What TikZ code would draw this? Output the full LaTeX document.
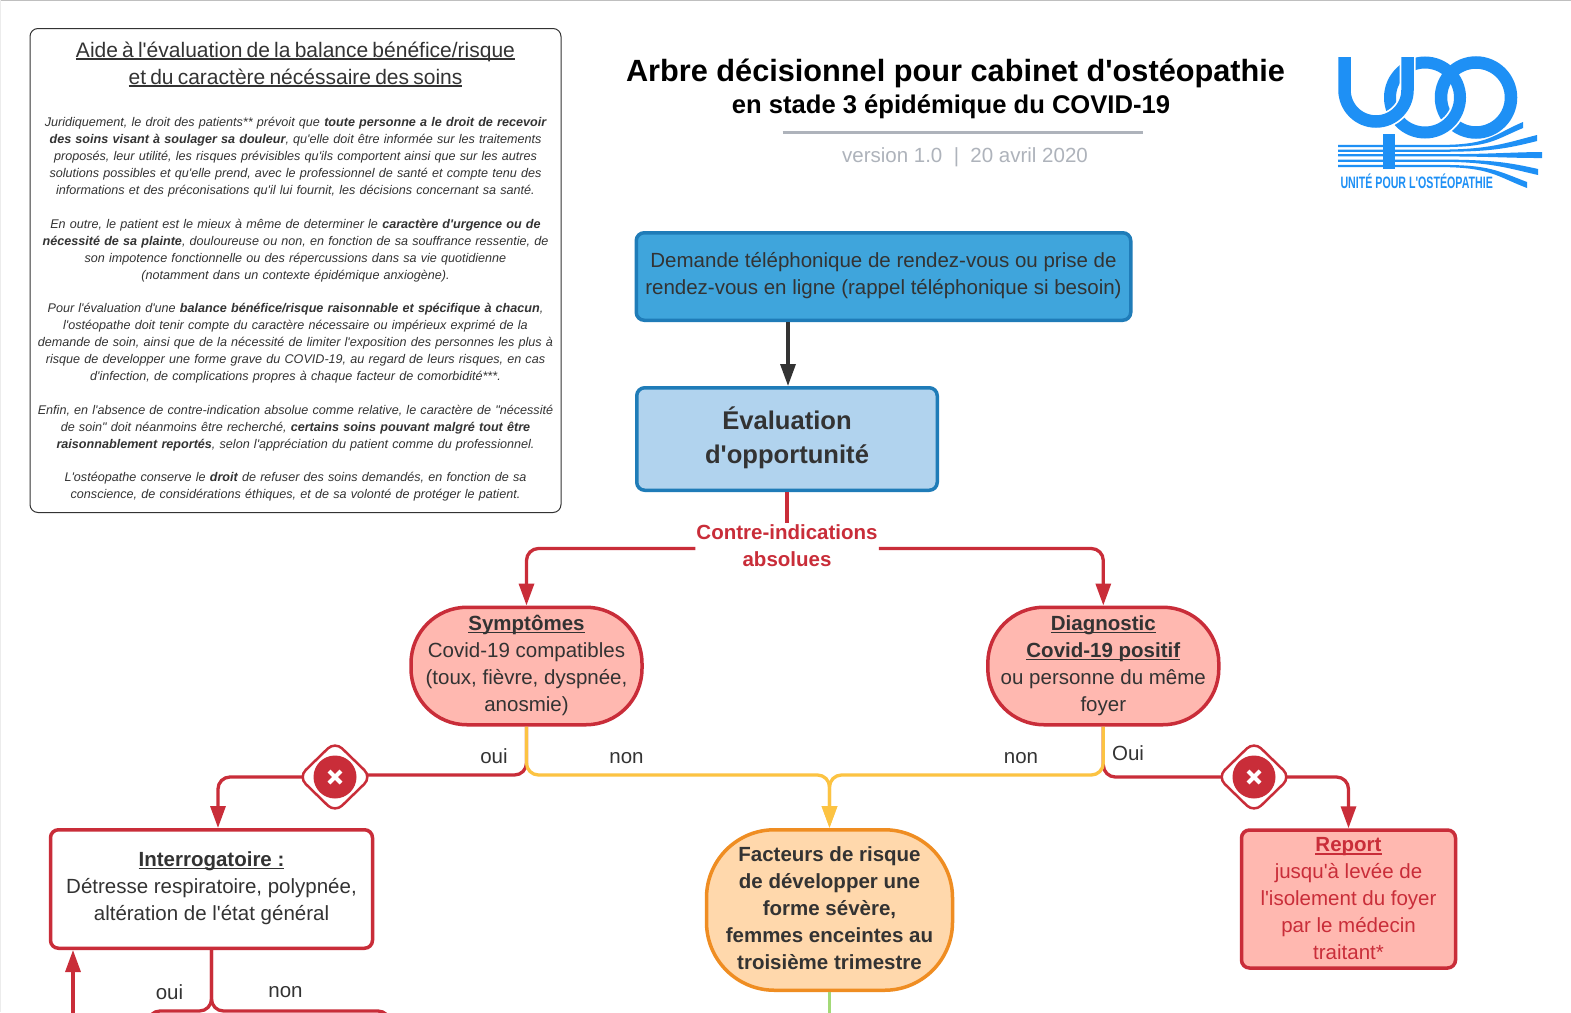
\documentclass[tikz,border=0pt]{standalone}
\usepackage{fontspec}
\defaultfontfeatures[\rmfamily]{}
\setmainfont{Liberation Sans}
\usetikzlibrary{arrows.meta, calc, shapes.geometric}
\definecolor{inkgray}{HTML}{333333}
\definecolor{redline}{HTML}{C92D39}
\definecolor{redfill}{HTML}{FFB8B0}
\definecolor{yellowline}{HTML}{FCC342}
\definecolor{greenline}{HTML}{A3D977}
\definecolor{orangeline}{HTML}{EF8D22}
\definecolor{orangefill}{HTML}{FFD8AC}
\definecolor{blueline}{HTML}{1F7CB8}
\definecolor{bluefill}{HTML}{3FA5DC}
\definecolor{palefill}{HTML}{B1D3EE}
\definecolor{logoblue}{HTML}{1E90F5}
\definecolor{softgray}{HTML}{AEB3BB}
\newcommand{\bodyfont}{\fontsize{20.5}{27}\selectfont}
\newsavebox{\ulinebox}
\newcommand{\ulined}[1]{\leavevmode\sbox{\ulinebox}{#1}\hbox{\rlap{\usebox{\ulinebox}}\rule[-2.6pt]{\wd\ulinebox}{1.3pt}}}

\begin{document}
\begin{tikzpicture}[x=1pt, y=-1pt,
    boxstyle/.style={rectangle, rounded corners=8pt, line width=3.5pt, inner sep=0pt,
      text=inkgray, align=center, font=\bodyfont},
    stadium/.style={boxstyle, rounded corners=56pt, draw=redline, fill=redfill},
    redbox/.style={boxstyle, draw=redline, fill=redfill},
    gateway/.style={diamond, rounded corners=10pt, draw=redline, fill=white, line width=2.5pt,
      inner sep=0pt, minimum width=74pt, minimum height=72pt},
    stopdot/.style={circle, fill=redline, inner sep=0pt, minimum size=43pt,
      path picture={
        \draw[white, line width=4pt] ([shift={(-6pt,-6pt)}]path picture bounding box.center)
          -- ([shift={(6pt,6pt)}]path picture bounding box.center);
        \draw[white, line width=4pt] ([shift={(-6pt,6pt)}]path picture bounding box.center)
          -- ([shift={(6pt,-6pt)}]path picture bounding box.center);}},
    flowline/.style={line width=3.3pt, rounded corners=12pt},
    headtip/.style={-{Triangle[width=15pt, length=22pt]}},
    word/.style={text=inkgray, font=\bodyfont, inner sep=0pt}]
  \clip (0,0) rectangle (1571,1012);
  \fill[white] (0,0) rectangle (1571,1012);
  \draw[gray!50, line width=1.5pt] (0,0.5) -- (1571,0.5);
  \draw[gray!15, line width=1.5pt] (0.5,0) -- (0.5,1012);

  \node[draw=inkgray, fill=white, rounded corners=8pt, line width=1pt, minimum width=531pt, minimum height=484pt,
      text width=527pt, align=center, inner sep=0pt, text=inkgray,
      font=\fontsize{12.6}{16.9}\selectfont] (aide) at (295.5,270.5) {%
    {\fontsize{21}{27}\selectfont\ulined{Aide à l'évaluation de la balance bénéfice/risque}\\
     \ulined{et du caractère nécéssaire des soins}\par}
    \vspace{26pt}
    \itshape
    Juridiquement, le droit des patients** prévoit que \textbf{toute personne a le droit de recevoir}\\
    \textbf{des soins visant à soulager sa douleur}, qu'elle doit être informée sur les traitements\\
    proposés, leur utilité, les risques prévisibles qu'ils comportent ainsi que sur les autres\\
    solutions possibles et qu'elle prend, avec le professionnel de santé et compte tenu des\\
    informations et des préconisations qu'il lui fournit, les décisions concernant sa santé.\\[16.9pt]
    En outre, le patient est le mieux à même de determiner le \textbf{caractère d'urgence ou de}\\
    \textbf{nécessité de sa plainte}, douloureuse ou non, en fonction de sa souffrance ressentie, de\\
    son impotence fonctionnelle ou des répercussions dans sa vie quotidienne\\
    (notamment dans un contexte épidémique anxiogène).\\[16.9pt]
    Pour l'évaluation d'une \textbf{balance bénéfice/risque raisonnable et spécifique à chacun},\\
    l'ostéopathe doit tenir compte du caractère nécessaire ou impérieux exprimé de la\\
    demande de soin, ainsi que de la nécessité de limiter l'exposition des personnes les plus à\\
    risque de developper une forme grave du COVID-19, au regard de leurs risques, en cas\\
    d'infection, de complications propres à chaque facteur de comorbidité***.\\[16.9pt]
    Enfin, en l'absence de contre-indication absolue comme relative, le caractère de "nécessité\\
    de soin" doit néanmoins être recherché, \textbf{certains soins pouvant malgré tout être}\\
    \textbf{raisonnablement reportés}, selon l'appréciation du patient comme du professionnel.\\[16.9pt]
    L'ostéopathe conserve le \textbf{droit} de refuser des soins demandés, en fonction de sa\\
    conscience, de considérations éthiques, et de sa volonté de protéger le patient.\par\vspace{-2pt}};

  \node[inner sep=0pt, font=\fontsize{30.7}{36}\selectfont\bfseries] (titre) at (955.5,73) {Arbre décisionnel pour cabinet d'ostéopathie};
  \node[inner sep=0pt, font=\fontsize{25.6}{30}\selectfont\bfseries] (soustitre) at (951,107) {en stade 3 épidémique du COVID-19};
  \node[inner sep=0pt, text=softgray, font=\bodyfont] (version) at (965,157) {version 1.0\ \ |\ \ 20 avril 2020};
  \draw[softgray, line width=3pt] (782.5,132.5) -- (1143,132.5);

  % logo
  \draw[logoblue, line width=12.5pt] (1476,97.5) circle[radius=35pt];
  \draw[white, line width=15.5pt] (1425,97.5) ++(-75:35pt) arc[start angle=-75, end angle=-25, radius=35pt];
  \draw[logoblue, line width=12pt] (1425,97.5) circle[radius=35pt];
  \draw[logoblue, line width=12pt] (1389,134) -- (1389,169);
  \draw[white, line width=16pt] (1407.5,57) -- (1407.5,90) arc[start angle=0, end angle=-90, radius=31.5pt];
  \draw[logoblue, line width=12.5pt] (1344.5,57) -- (1344.5,90) arc[start angle=180, end angle=360, radius=31.5pt] -- (1407.5,57);
  \foreach \ys/\xe/\ye in {146/1523/125, 150.7/1537/138, 155.3/1542/155, 160.7/1538/172, 166/1527/185}
    \fill[logoblue] (1338,{\ys-1.1}) -- (1440,{\ys-1.1})
      .. controls (1490,{\ys-1.1}) and ({\xe-30},{\ye+(\ys-\ye)*0.6-3}) .. (\xe,{\ye-3})
      -- (\xe,{\ye+3})
      .. controls ({\xe-30},{\ye+(\ys-\ye)*0.6+3}) and (1490,{\ys+1.1}) .. (1440,{\ys+1.1})
      -- (1338,{\ys+1.1}) -- cycle;
  \node[inner sep=0pt, anchor=base, text=logoblue, font=\fontsize{16.5}{16.5}\selectfont\bfseries] (logotexte) at (1416.7,188)
    {\scalebox{0.645}[1]{UNITÉ POUR L'OSTÉOPATHIE}};

  \node[boxstyle, draw=blueline, fill=bluefill, minimum width=494.5pt, minimum height=87.5pt] (demande) at (883.5,276.5)
    {Demande téléphonique de rendez-vous ou prise de\\ rendez-vous en ligne (rappel téléphonique si besoin)\\[-21pt]};
  \node[boxstyle, draw=blueline, fill=palefill, minimum width=300.5pt, minimum height=102.5pt, font=\fontsize{25.6}{34}\selectfont\bfseries] (evaluation) at (787,439)
    {Évaluation\\ d'opportunité\\[-26pt]};
  \node[stadium, minimum width=231pt, minimum height=117.5pt] (symptomes) at (526.5,666)
    {\textbf{\ulined{Symptômes}}\\ Covid-19 compatibles\\ (toux, fièvre, dyspnée,\\ anosmie)\\[-22pt]};
  \node[stadium, minimum width=231pt, minimum height=117.5pt] (diagnostic) at (1103.3,666)
    {\textbf{\ulined{Diagnostic}}\\ \textbf{\ulined{Covid-19 positif}}\\ ou personne du même\\ foyer\\[-22pt]};
  \node[boxstyle, draw=redline, fill=white, minimum width=322pt, minimum height=118.5pt] (interrogatoire) at (211.5,889)
    {\textbf{\ulined{Interrogatoire :}}\\ Détresse respiratoire, polypnée,\\ altération de l'état général\\[-21pt]};
  \node[boxstyle, rounded corners=68pt, draw=orangeline, fill=orangefill, minimum width=246pt, minimum height=160.5pt] (facteurs) at (829.5,910)
    {\textbf{Facteurs de risque}\\ \textbf{de développer une}\\ \textbf{forme sévère,}\\ \textbf{femmes enceintes au}\\ \textbf{troisième trimestre}\\[-24pt]};
  \node[redbox, text=redline, minimum width=214pt, minimum height=138pt] (report) at (1348.5,899)
    {\textbf{\ulined{Report}}\\ jusqu'à levée de\\ l'isolement du foyer\\ par le médecin\\ traitant*};
  \node[inner sep=1pt, fill=white, text=redline, align=center, font=\bodyfont] (contre) at (787,545.5)
    {\textbf{Contre-indications}\\ \textbf{absolues}};

  \coordinate (versbas) at (829.5,1030);
  \coordinate (retour) at (73,1030);
  \coordinate (suiteg) at (148,1030);
  \coordinate (suited) at (390,1030);

  \draw[flowline, headtip, inkgray] ([xshift=1pt]evaluation.north |- demande.south) -- ([xshift=1pt]evaluation.north);
  \draw[flowline, redline] (evaluation.south) -- (contre.north);
  \draw[flowline, headtip, redline] ([yshift=-3pt]contre.west) -| (symptomes.north);
  \draw[flowline, headtip, redline] ([yshift=-3pt]contre.east) -| (diagnostic.north);

  \draw[flowline, redline] (symptomes.south) |- (335,775);
  \draw[flowline, redline] (diagnostic.south) |- (1254,777);
  \draw[flowline, headtip, redline] (335,777) -| ([xshift=6.5pt]interrogatoire.north);
  \draw[flowline, headtip, redline] (1254,777) -| (report.north);
  \draw[flowline, headtip, yellowline] (symptomes.south) |- (829.5,775) -- (facteurs.north);
  \draw[flowline, headtip, yellowline] (diagnostic.south) |- (829.5,775) -- (facteurs.north);
  \draw[line width=3.3pt, greenline] (facteurs.south) -- (versbas);
  \draw[flowline, redline] (interrogatoire.south) |- (148,1011) -- (suiteg);
  \draw[flowline, redline] (interrogatoire.south) |- (390,1011) -- (suited);
  \draw[line width=3.3pt, headtip, redline] (retour) -- (retour |- interrogatoire.south);

  \node[gateway] (stopa) at (335,777) {};
  \node[stopdot] (dota) at (stopa) {};
  \node[gateway] (stopb) at (1254,777) {};
  \node[stopdot] (dotb) at (stopb) {};

  \node[word] (ouia) at (494,756) {oui};
  \node[word] (nona) at (626.5,758) {non};
  \node[word] (nonb) at (1021,758) {non};
  \node[word] (ouib) at (1128,753.5) {Oui};
  \node[word] (ouic) at (169.5,992) {oui};
  \node[word] (nonc) at (285.5,992) {non};
\end{tikzpicture}
\end{document}
